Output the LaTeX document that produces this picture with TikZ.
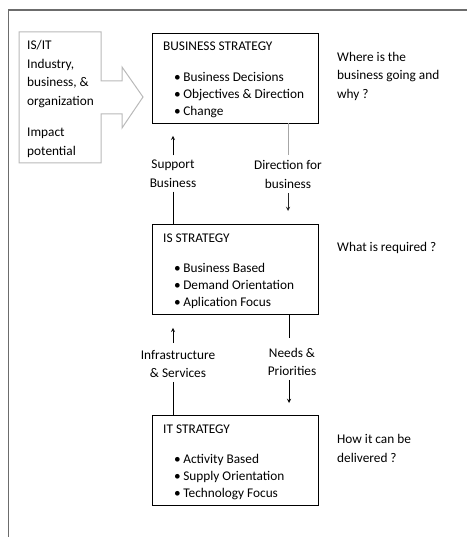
\documentclass[tikz,border=0pt]{standalone}
\usepackage{fontspec}
\setmainfont{Carlito}
\usetikzlibrary{positioning}
\tikzset{%
  stratbox/.style={draw,line width=0.8pt,minimum width=166pt,minimum height=90pt,anchor=north west,inner sep=0pt},
  boxtitle/.style={anchor=west,inner sep=0pt},
  bullets/.style={anchor=west,inner sep=0pt,align=left},
  sidetext/.style={anchor=west,inner sep=0pt,align=left},
  flowlabel/.style={inner sep=0pt,align=center}
}
\newcommand{\bul}{\textbullet\hspace{2.5pt}}

\begin{document}
\begin{tikzpicture}[x=1pt,y=-1pt,font=\fontsize{13.3}{17}\selectfont]

    \useasboundingbox (0,0) rectangle (467,537);
    \draw[gray!85!black,line width=1.6pt] (8.5,537) -- (8.5,10) -- (467,10); % Frame

    % Arrow shape on the left
    \draw[gray!55,line width=1pt] (19,32) -- (101,32) -- (101,81) -- (122,81) -- (122,67)
        -- (143,97) -- (122,128) -- (122,114) -- (101,114) -- (101,163) -- (19,163) -- cycle;
    \node[sidetext,font=\fontsize{13.3}{18.7}\selectfont] (factors) at (27,74) {IS/IT\\Industry,\\business, \&\\organization};
    \node[sidetext,font=\fontsize{13.3}{18.7}\selectfont] (impact) at (27,142.5) {Impact\\potential};

    % Strategy boxes
    \node[stratbox] (busbox) at (152,33) {};
    \node[stratbox] (isbox) at (152,224) {};
    \node[stratbox] (itbox) at (152,415) {};

    \node[boxtitle] (bustitle) at (163,46) {BUSINESS STRATEGY};
    \node[boxtitle] (istitle) at (163,238) {IS STRATEGY};
    \node[boxtitle] (ittitle) at (163,429) {IT STRATEGY};

    \node[bullets] (buslist) at (174,95) {\bul Business Decisions\\\bul Objectives \& Direction\\\bul Change};
    \node[bullets] (islist) at (174,286) {\bul Business Based\\\bul Demand Orientation\\\bul Aplication Focus};
    \node[bullets] (itlist) at (174,477) {\bul Activity Based\\\bul Supply Orientation\\\bul Technology Focus};

    % Questions on the right
    \node[sidetext,font=\fontsize{13.3}{18.5}\selectfont] (busq) at (337,76) {Where is the\\business going and\\why ?};
    \node[sidetext] (isq) at (337,248) {What is required ?};
    \node[sidetext,font=\fontsize{13.3}{18.5}\selectfont] (itq) at (337,448.5) {How it can be\\delivered ?};

    % Labels between the boxes
    \node[flowlabel,font=\fontsize{13.3}{19}\selectfont] (support) at (173,173.5) {Support\\Business};
    \node[flowlabel,font=\fontsize{13.3}{19}\selectfont] (direction) at (288,174.5) {Direction for\\business};
    \node[flowlabel,font=\fontsize{13.3}{18}\selectfont] (infra) at (178,364) {Infrastructure\\\& Services};
    \node[flowlabel,font=\fontsize{13.3}{18}\selectfont] (needs) at (292,362) {Needs \&\\Priorities};

    \coordinate (supbot) at (173,224);
    \coordinate (dirtop) at (288,123);
    \coordinate (infbot) at (173,415);
    \coordinate (needtop) at (289,314);

    % Connectors
    \draw[->,>=stealth,line width=0.9pt,shorten <=4pt,shorten >=12pt] (support.north) -- (support.north |- busbox.south);
    \draw[line width=0.8pt,shorten <=4pt] (support.south) -- (supbot);
    \draw[gray!70,line width=0.8pt,shorten >=5pt] (dirtop) -- (direction.north -| dirtop);
    \draw[->,>=stealth,gray!30!black,line width=0.9pt,shorten <=4pt,shorten >=13pt] (direction.south -| dirtop) -- (isbox.north -| dirtop);

    \draw[->,>=stealth,line width=0.9pt,shorten <=7pt,shorten >=13pt] (infra.north -| infbot) -- (isbox.south -| infbot);
    \draw[line width=0.8pt,shorten <=4pt] (infra.south -| infbot) -- (infbot);
    \draw[line width=0.8pt,shorten >=10pt] (needtop) -- (needs.north -| needtop);
    \draw[->,>=stealth,line width=0.9pt,shorten <=4pt,shorten >=12pt] (needs.south -| needtop) -- (itbox.north -| needtop);

\end{tikzpicture}
\end{document}
